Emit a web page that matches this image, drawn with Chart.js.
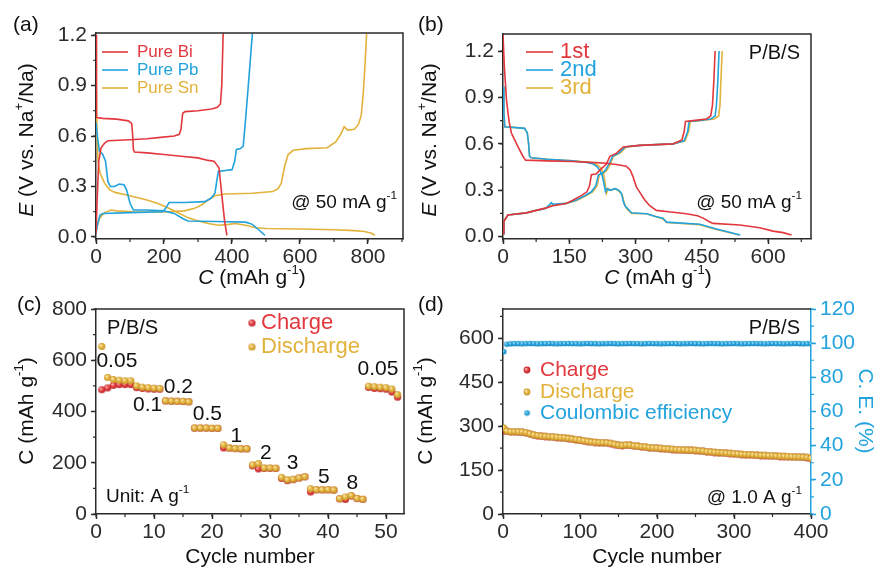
<!DOCTYPE html>
<html>
<head>
<meta charset="utf-8">
<title>P/B/S sodium storage</title>
<script src="https://cdn.jsdelivr.net/npm/chart.js@4.4.1/dist/chart.umd.min.js"></script>
<style>
  html, body { margin: 0; padding: 0; background: #fff; }
  #wrap { position: relative; width: 884px; height: 569px; overflow: hidden; }
  canvas { position: absolute; }
  #chartA { left: 0; top: 0; width: 420px; height: 300px; }
  #chartB { left: 410px; top: 0; width: 474px; height: 300px; }
  #chartC { left: 0; top: 284px; width: 420px; height: 285px; }
  #chartD { left: 410px; top: 284px; width: 474px; height: 285px; }
</style>
</head>
<body>
<div id="wrap">
  <canvas id="chartA" width="420" height="300"></canvas>
  <canvas id="chartB" width="474" height="300"></canvas>
  <canvas id="chartC" width="420" height="285"></canvas>
  <canvas id="chartD" width="474" height="285"></canvas>
</div>
<script>
// ==========================================
// DATA
// ==========================================

// (a) pure metals, [capacity, potential]
const biDischarge = [[0,1.2],[1,0.9],[2,0.71],[20,0.705],[60,0.70],[95,0.69],[105,0.675],[108,0.6],[110,0.52],[113,0.505],[150,0.50],[200,0.49],[250,0.48],[300,0.47],[330,0.455],[347,0.45],[355,0.43],[362,0.41],[370,0.25],[378,0.1],[385,0.01]];
const biCharge = [[0,0.02],[3,0.2],[8,0.45],[15,0.53],[25,0.557],[35,0.572],[100,0.578],[150,0.584],[190,0.592],[230,0.60],[245,0.61],[250,0.64],[255,0.735],[262,0.745],[300,0.75],[340,0.76],[357,0.77],[366,0.79],[370,0.9],[374,1.21]];
const pbDischarge = [[0,0.68],[4,0.6],[10,0.51],[20,0.49],[28,0.45],[35,0.33],[42,0.30],[55,0.30],[68,0.315],[82,0.31],[90,0.28],[100,0.2],[110,0.16],[150,0.16],[200,0.155],[230,0.14],[255,0.11],[270,0.095],[350,0.092],[440,0.088],[460,0.075],[480,0.04],[497,0.01]];
const pbCharge = [[0,0.02],[5,0.08],[12,0.13],[20,0.14],[100,0.145],[195,0.15],[205,0.17],[215,0.205],[260,0.205],[320,0.21],[338,0.23],[350,0.26],[355,0.33],[360,0.39],[380,0.395],[400,0.40],[408,0.45],[413,0.52],[425,0.525],[433,0.54],[440,0.7],[450,0.95],[460,1.21]];
const snDischarge = [[0,1.15],[1,0.9],[3,0.6],[6,0.45],[12,0.38],[25,0.32],[40,0.28],[56,0.265],[90,0.25],[150,0.22],[180,0.20],[210,0.175],[240,0.145],[270,0.115],[300,0.095],[330,0.08],[360,0.07],[390,0.075],[410,0.08],[440,0.07],[470,0.055],[500,0.05],[600,0.047],[700,0.043],[760,0.038],[790,0.033],[810,0.022],[820,0.01]];
const snCharge = [[0,0.04],[10,0.11],[25,0.145],[45,0.16],[60,0.155],[110,0.15],[200,0.148],[260,0.155],[290,0.17],[310,0.19],[330,0.22],[350,0.245],[380,0.255],[460,0.26],[520,0.27],[535,0.285],[545,0.32],[555,0.42],[565,0.49],[580,0.515],[620,0.525],[680,0.53],[705,0.565],[720,0.61],[730,0.655],[740,0.635],[760,0.64],[772,0.67],[780,0.72],[786,0.85],[792,1.05],[796,1.21]];

// (b) P/B/S first three cycles
const c1Discharge = [[0,1.31],[3,1.1],[8,0.88],[14,0.74],[19,0.67],[34,0.58],[45,0.52],[51,0.495],[100,0.49],[158,0.486],[200,0.48],[234,0.475],[260,0.465],[279,0.455],[288,0.43],[294,0.39],[302,0.32],[309,0.29],[320,0.24],[332,0.20],[347,0.17],[380,0.16],[415,0.148],[440,0.135],[453,0.12],[465,0.10],[475,0.086],[536,0.075],[581,0.058],[611,0.036],[634,0.026],[653,0.011]];
const c2Discharge = [[0,0.97],[2,0.8],[4,0.71],[30,0.705],[49,0.70],[55,0.67],[58,0.60],[60,0.52],[64,0.51],[100,0.50],[158,0.49],[190,0.48],[204,0.47],[212,0.455],[219,0.43],[224,0.40],[228,0.35],[232,0.29],[236,0.31],[242,0.30],[253,0.31],[262,0.30],[268,0.28],[272,0.23],[276,0.20],[291,0.155],[325,0.148],[345,0.13],[362,0.12],[370,0.094],[445,0.08],[483,0.05],[521,0.022],[537,0.011]];
const c3Discharge = [[0,0.97],[2,0.8],[4,0.71],[30,0.705],[49,0.70],[55,0.67],[58,0.60],[60,0.52],[64,0.51],[100,0.50],[158,0.49],[195,0.48],[210,0.47],[218,0.455],[224,0.43],[228,0.40],[231,0.35],[234,0.28],[238,0.31],[244,0.30],[255,0.31],[264,0.29],[270,0.27],[275,0.21],[280,0.18],[291,0.15],[325,0.148],[345,0.13],[362,0.115],[370,0.092],[445,0.078],[483,0.047],[521,0.02],[534,0.011]];
const c1Charge = [[0,0.02],[2,0.10],[11,0.14],[53,0.154],[75,0.17],[98,0.186],[113,0.20],[143,0.215],[158,0.235],[177,0.265],[190,0.29],[196,0.33],[200,0.40],[211,0.405],[219,0.43],[234,0.47],[242,0.52],[257,0.54],[272,0.58],[309,0.59],[385,0.60],[405,0.625],[410,0.68],[413,0.745],[430,0.75],[460,0.76],[470,0.78],[474,0.85],[477,1.0],[480,1.2]];
const c2Charge = [[0,0.02],[2,0.10],[11,0.14],[53,0.154],[75,0.17],[95,0.18],[105,0.205],[109,0.22],[113,0.21],[143,0.215],[165,0.235],[185,0.265],[200,0.29],[210,0.33],[216,0.40],[225,0.41],[232,0.43],[240,0.47],[248,0.52],[262,0.54],[276,0.58],[309,0.59],[385,0.60],[410,0.62],[418,0.68],[421,0.745],[440,0.75],[470,0.76],[480,0.78],[483,0.85],[486,1.0],[489,1.2]];
const c3Charge = [[0,0.02],[2,0.10],[11,0.14],[53,0.154],[75,0.17],[98,0.185],[112,0.205],[143,0.215],[168,0.235],[188,0.265],[203,0.29],[213,0.33],[218,0.40],[227,0.41],[235,0.43],[243,0.47],[250,0.52],[265,0.54],[279,0.58],[309,0.59],[385,0.60],[412,0.62],[420,0.68],[424,0.745],[445,0.75],[478,0.76],[488,0.78],[491,0.85],[493,1.0],[496,1.2]];

// (c) rate performance
const rateCycles = [1,2,3,4,5,6,7,8,9,10,11,12,13,14,15,16,17,18,19,20,21,22,23,24,25,26,27,28,29,30,31,32,33,34,35,36,37,38,39,40,41,42,43,44,45,46,47,48,49,50,51,52];
const rateCharge = [485,492,502,505,505,505,493,490,488,487,487,441,440,440,439,438,335,335,335,334,334,258,257,255,254,254,188,176,178,178,178,139,130,134,140,145,86,94,94,94,93,59,57,70,60,57,494,490,489,487,476,456];
const rateDischarge = [654,533,525,522,520,520,500,495,493,491,490,442,441,440,440,438,336,336,336,335,335,270,258,256,255,255,192,197,180,180,179,143,134,136,141,146,99,95,95,95,94,60,67,72,61,58,499,497,495,493,488,466];
const rateLabels = ['0.05','0.1','0.2','0.5','1','2','3','5','8','0.05'];
const rateLabelX = [3.6,8.9,14.2,19.2,24.2,29.3,33.9,39.3,44.2,48.6];
const rateLabelY = [597,423,493,390,305,239,200,142,122,567];

// (d) long cycling at 1.0 A/g
const lifeCycles = [1,5,10,15,20,25,30,35,40,45,50,55,60,65,70,75,80,85,90,95,100,105,110,115,120,125,130,135,140,145,150,155,160,165,170,175,180,185,190,195,200,205,210,215,220,225,230,235,240,245,250,255,260,265,270,275,280,285,290,295,300,305,310,315,320,325,330,335,340,345,350,355,360,365,370,375,380,385,390,395,400];
const lifeDischarge = [294,283,281,281,280,280,278,274,270,268,266,265,264,263,262,261,260,258,256,254,252,250,248,246,245,244,244,243,241,238,235,234,236,235,233,232,230,229,227,226,225,224,223,222,221,220,219,219,218,218,217,216,215,213,212,211,210,209,208,207,206,205,204,203,203,202,201,200,200,199,199,198,197,197,196,196,195,195,194,193,190];
const lifeCharge = [284,282,280,280,279,279,277,273,269,267,265,264,263,262,261,260,259,257,255,253,251,249,247,245,244,243,243,242,240,237,234,233,235,234,232,231,229,228,226,225,224,223,222,221,220,219,218,218,217,217,216,215,214,212,211,210,209,208,207,206,205,204,203,202,202,201,200,199,199,198,198,197,196,196,195,195,194,194,193,192,189];
const lifeCE = [95.0,99.4,99.6,99.7,99.7,99.6,99.7,99.8,99.7,99.6,99.7,99.7,99.8,99.7,99.6,99.7,99.7,99.8,99.7,99.7,99.6,99.7,99.8,99.7,99.7,99.6,99.7,99.7,99.8,99.7,99.6,99.7,99.7,99.8,99.7,99.7,99.6,99.7,99.8,99.7,99.7,99.6,99.7,99.7,99.8,99.7,99.6,99.7,99.7,99.8,99.7,99.7,99.6,99.7,99.8,99.7,99.7,99.6,99.7,99.7,99.8,99.7,99.6,99.7,99.7,99.8,99.7,99.7,99.6,99.7,99.8,99.7,99.7,99.6,99.7,99.7,99.8,99.7,99.6,99.7,99.7];

// ==========================================
// STYLE
// ==========================================

const RED = '#e2383d';
const BLUE = '#22a3de';
const GOLD = '#e2b23b';
const AXIS = '#2b2b2b';
const FONT = 'Arial, "Liberation Sans", Helvetica, sans-serif';

const redBall = makeBall(RED, '#f8b4ae', '#b8262b', 3.6);
const goldBall = makeBall(GOLD, '#fbe6a6', '#c3902a', 3.6);
const redDot = makeBall(RED, '#f8b4ae', '#b8262b', 3.4);
const goldDot = makeBall(GOLD, '#fbe6a6', '#c3902a', 3.4);
const blueDot = makeBall(BLUE, '#a8e0f8', '#1380b8', 2.8);

// ==========================================
// CHARTS
// ==========================================

initPanelA();
initPanelB();
initPanelC();
initPanelD();

function initPanelA() {
    const ctx = document.getElementById('chartA').getContext('2d');
    new Chart(ctx, {
        type: 'scatter',
        data: {
            datasets: [
                curve(biDischarge, RED), curve(biCharge, RED),
                curve(pbDischarge, BLUE), curve(pbCharge, BLUE),
                curve(snDischarge, GOLD), curve(snCharge, GOLD)
            ]
        },
        options: baseOptions({ top: 33, right: 17 }, {
            x: axis('bottom', 0, 903, 200, 61),
            y: axis('left', -0.012, 1.212, 0.3, 96, v => v.toFixed(1))
        }),
        plugins: [decor({
            minor: [{ axis: 'x', step: 100 }, { axis: 'y', step: 0.15 }],
            frame: 'tr',
            texts: [
                { x: 13, y: 25, segs: [{ t: '(a)' }], size: 21 },
                { x: 27, y: 140, rot: -90, align: 'center', segs: eLabel() },
                { x: 252, y: 278, align: 'center', segs: capLabel(true) },
                { x: 137, y: 52, segs: [{ t: 'Pure Bi' }], size: 17, color: RED },
                { x: 137, y: 70, segs: [{ t: 'Pure Pb' }], size: 17, color: BLUE },
                { x: 137, y: 88, segs: [{ t: 'Pure Sn' }], size: 17, color: GOLD },
                { x: 397, y: 203, align: 'right', size: 19, segs: [{ t: '@ 50 mA g' }, { t: '-1', sup: true }] }
            ],
            lines: [
                { x1: 102, x2: 128, y: 52, color: RED },
                { x1: 102, x2: 128, y: 70, color: BLUE },
                { x1: 102, x2: 128, y: 88, color: GOLD }
            ]
        })]
    });
}

function initPanelB() {
    const ctx = document.getElementById('chartB').getContext('2d');
    new Chart(ctx, {
        type: 'scatter',
        data: {
            datasets: [
                curve(c1Discharge, RED), curve(c1Charge, RED),
                curve(c2Discharge, BLUE), curve(c2Charge, BLUE),
                curve(c3Discharge, GOLD), curve(c3Charge, GOLD)
            ]
        },
        options: baseOptions({ top: 34, right: 73 }, {
            x: axis('bottom', 0, 697, 150, 61),
            y: axis('left', -0.015, 1.31, 0.3, 93, v => v.toFixed(1))
        }),
        plugins: [decor({
            minor: [{ axis: 'x', step: 75 }, { axis: 'y', step: 0.15 }],
            frame: 'tr',
            texts: [
                { x: 8, y: 25, segs: [{ t: '(b)' }], size: 21 },
                { x: 20, y: 140, rot: -90, align: 'center', segs: eLabel() },
                { x: 248, y: 278, align: 'center', segs: capLabel(true) },
                { x: 150, y: 52, segs: [{ t: '1st' }], size: 22, color: RED },
                { x: 150, y: 70, segs: [{ t: '2nd' }], size: 22, color: BLUE },
                { x: 150, y: 88, segs: [{ t: '3rd' }], size: 22, color: GOLD },
                { x: 390, y: 53, align: 'right', size: 20, segs: [{ t: 'P/B/S' }] },
                { x: 392, y: 203, align: 'right', size: 19, segs: [{ t: '@ 50 mA g' }, { t: '-1', sup: true }] }
            ],
            lines: [
                { x1: 116, x2: 143, y: 52, color: RED },
                { x1: 116, x2: 143, y: 70, color: BLUE },
                { x1: 116, x2: 143, y: 88, color: GOLD }
            ]
        })]
    });
}

function initPanelC() {
    const ctx = document.getElementById('chartC').getContext('2d');
    const rateTexts = rateLabels.map((t, i) => ({ x: rateLabelX[i], y: rateLabelY[i], data: true, align: 'center', segs: [{ t }] }));
    new Chart(ctx, {
        type: 'scatter',
        data: {
            datasets: [
                dots(rateCycles, rateDischarge, goldBall, 3.6),
                dots(rateCycles, rateCharge, redBall, 3.6)
            ]
        },
        options: baseOptions({ top: 25, right: 16 }, {
            x: axis('bottom', 0, 53.1, 10, 55),
            y: axis('left', 0, 800, 200, 96)
        }),
        plugins: [decor({
            minor: [{ axis: 'x', step: 5 }, { axis: 'y', step: 100 }],
            frame: 'tr',
            texts: [
                { x: 17, y: 21, segs: [{ t: '(c)' }], size: 21 },
                { x: 27, y: 127, rot: -90, align: 'center', segs: capLabel(false) },
                { x: 250, y: 273, align: 'center', segs: [{ t: 'Cycle number' }] },
                { x: 107, y: 44, size: 20, segs: [{ t: 'P/B/S' }] },
                { x: 261, y: 39, segs: [{ t: 'Charge' }], size: 22, color: RED },
                { x: 261, y: 63, segs: [{ t: 'Discharge' }], size: 22, color: GOLD },
                { x: 106, y: 213, size: 19, segs: [{ t: 'Unit: A g' }, { t: '-1', sup: true }] }
            ].concat(rateTexts),
            balls: [
                { x: 252, y: 39, img: redBall },
                { x: 252, y: 63, img: goldBall }
            ]
        })]
    });
}

function initPanelD() {
    const ctx = document.getElementById('chartD').getContext('2d');
    const ceSet = dots(lifeCycles, lifeCE, blueDot, 2.8);
    ceSet.yAxisID = 'y1';
    const y1 = axis('right', 0, 120, 20, 73);
    y1.ticks.color = BLUE;
    y1.grid.tickColor = BLUE;
    y1.border.color = BLUE;
    new Chart(ctx, {
        type: 'scatter',
        data: {
            datasets: [
                ceSet,
                dots(lifeCycles, lifeDischarge, goldDot, 3.4),
                dots(lifeCycles, lifeCharge, redDot, 3.4)
            ]
        },
        options: baseOptions({ top: 25, right: 0 }, {
            x: axis('bottom', 0, 400, 100, 55),
            y: axis('left', 0, 700, 150, 93),
            y1: y1
        }),
        plugins: [decor({
            minor: [{ axis: 'x', step: 50 }, { axis: 'y', step: 75 }, { axis: 'y1', step: 10, color: BLUE }],
            frame: 't',
            texts: [
                { x: 8, y: 21, segs: [{ t: '(d)' }], size: 21 },
                { x: 16, y: 127, rot: -90, align: 'center', segs: capLabel(false) },
                { x: 455, y: 127, rot: 90, align: 'center', segs: [{ t: 'C. E. (%)' }], color: BLUE },
                { x: 247, y: 273, align: 'center', segs: [{ t: 'Cycle number' }] },
                { x: 390, y: 44, align: 'right', size: 20, segs: [{ t: 'P/B/S' }] },
                { x: 130, y: 86, segs: [{ t: 'Charge' }], color: RED },
                { x: 130, y: 108, segs: [{ t: 'Discharge' }], color: GOLD },
                { x: 130, y: 129, segs: [{ t: 'Coulombic efficiency' }], color: BLUE },
                { x: 392, y: 214, align: 'right', size: 19, segs: [{ t: '@ 1.0 A g' }, { t: '-1', sup: true }] }
            ],
            balls: [
                { x: 117, y: 86, img: redDot },
                { x: 117, y: 108, img: goldDot },
                { x: 117, y: 129, img: blueDot }
            ]
        })]
    });
}

// ==========================================
// UTILITIES
// ==========================================

function curve(points, color) {
    return {
        data: points.map(p => ({ x: p[0], y: p[1] })),
        showLine: true,
        borderColor: color,
        borderWidth: 1.6,
        pointRadius: 0,
        tension: 0
    };
}

function dots(xs, ys, img, r) {
    return {
        data: xs.map((x, i) => ({ x, y: ys[i] })),
        showLine: false,
        pointStyle: img,
        pointRadius: r,
        pointHoverRadius: r
    };
}

function axis(position, min, max, step, size, fmt) {
    const horizontal = position === 'bottom';
    return {
        type: 'linear',
        position,
        min, max,
        ticks: {
            stepSize: step,
            includeBounds: false,
            autoSkip: false,
            maxRotation: 0,
            padding: horizontal ? 1 : 4,
            color: AXIS,
            font: { family: FONT, size: 21 },
            callback: fmt || (v => v)
        },
        grid: { drawOnChartArea: false, drawTicks: true, tickLength: 5, tickWidth: 1.5, tickColor: AXIS },
        border: { display: true, color: AXIS, width: 1.5 },
        afterFit: s => { if (horizontal) s.height = size; else s.width = size; }
    };
}

function baseOptions(pad, scales) {
    return {
        responsive: false,
        animation: false,
        events: [],
        layout: { autoPadding: false, padding: { top: pad.top, right: pad.right, left: 0, bottom: 0 } },
        plugins: { legend: { display: false }, tooltip: { enabled: false } },
        scales
    };
}

function eLabel() {
    return [{ t: 'E', it: true }, { t: ' (V vs. Na' }, { t: '+', sup: true }, { t: '/Na)' }];
}

function capLabel(italic) {
    return [{ t: 'C', it: italic }, { t: ' (mAh g' }, { t: '-1', sup: true }, { t: ')' }];
}

function makeBall(base, light, dark, r) {
    const c = document.createElement('canvas');
    const d = Math.ceil(r * 2) + 1;
    c.width = c.height = d;
    const g = c.getContext('2d');
    const m = d / 2;
    const grad = g.createRadialGradient(m - r * 0.35, m - r * 0.35, r * 0.1, m, m, r);
    grad.addColorStop(0, light);
    grad.addColorStop(0.55, base);
    grad.addColorStop(1, dark);
    g.fillStyle = grad;
    g.beginPath();
    g.arc(m, m, r, 0, Math.PI * 2);
    g.fill();
    return c;
}

function drawRich(ctx, segs, x, y, size, color, align) {
    const parts = segs.map(s => {
        const fs = s.sup ? size * 0.62 : size;
        const font = (s.it ? 'italic ' : '') + fs + 'px ' + FONT;
        ctx.font = font;
        return { t: s.t, font, w: ctx.measureText(s.t).width, dy: s.sup ? -size * 0.36 : 0 };
    });
    const total = parts.reduce((a, p) => a + p.w, 0);
    let cx = align === 'center' ? x - total / 2 : align === 'right' ? x - total : x;
    ctx.textAlign = 'left';
    ctx.textBaseline = 'middle';
    ctx.fillStyle = color;
    parts.forEach(p => {
        ctx.font = p.font;
        ctx.fillText(p.t, cx, y + p.dy);
        cx += p.w;
    });
}

// minor ticks, closed frame, free text, legend marks
function decor(cfg) {
    return {
        id: 'decor',
        afterDraw(chart) {
            const ctx = chart.ctx;
            const area = chart.chartArea;
            ctx.save();

            (cfg.minor || []).forEach(m => {
                const s = chart.scales[m.axis];
                ctx.strokeStyle = m.color || AXIS;
                ctx.lineWidth = 1.2;
                ctx.beginPath();
                for (let v = Math.ceil(s.min / m.step) * m.step; v <= s.max + 1e-9; v += m.step) {
                    const p = s.getPixelForValue(v);
                    if (s.isHorizontal()) { ctx.moveTo(p, s.top); ctx.lineTo(p, s.top + 3); }
                    else if (s.position === 'left') { ctx.moveTo(s.right, p); ctx.lineTo(s.right - 3, p); }
                    else { ctx.moveTo(s.left, p); ctx.lineTo(s.left + 3, p); }
                }
                ctx.stroke();
            });

            ctx.strokeStyle = AXIS;
            ctx.lineWidth = 1.5;
            ctx.beginPath();
            ctx.moveTo(area.left, area.top);
            ctx.lineTo(area.right, area.top);
            if (cfg.frame.includes('r')) ctx.lineTo(area.right, area.bottom);
            ctx.stroke();

            (cfg.lines || []).forEach(l => {
                ctx.strokeStyle = l.color;
                ctx.lineWidth = 1.6;
                ctx.beginPath();
                ctx.moveTo(l.x1, l.y);
                ctx.lineTo(l.x2, l.y);
                ctx.stroke();
            });

            (cfg.balls || []).forEach(b => {
                ctx.drawImage(b.img, b.x - b.img.width / 2, b.y - b.img.height / 2);
            });

            (cfg.texts || []).forEach(t => {
                let x = t.x, y = t.y;
                if (t.data) {
                    x = chart.scales.x.getPixelForValue(t.x);
                    y = chart.scales.y.getPixelForValue(t.y);
                }
                const size = t.size || 21;
                const color = t.color || '#111';
                if (t.rot) {
                    ctx.save();
                    ctx.translate(x, y);
                    ctx.rotate(t.rot * Math.PI / 180);
                    drawRich(ctx, t.segs, 0, 0, size, color, t.align);
                    ctx.restore();
                } else {
                    drawRich(ctx, t.segs, x, y, size, color, t.align);
                }
            });

            ctx.restore();
        }
    };
}
</script>
</body>
</html>
